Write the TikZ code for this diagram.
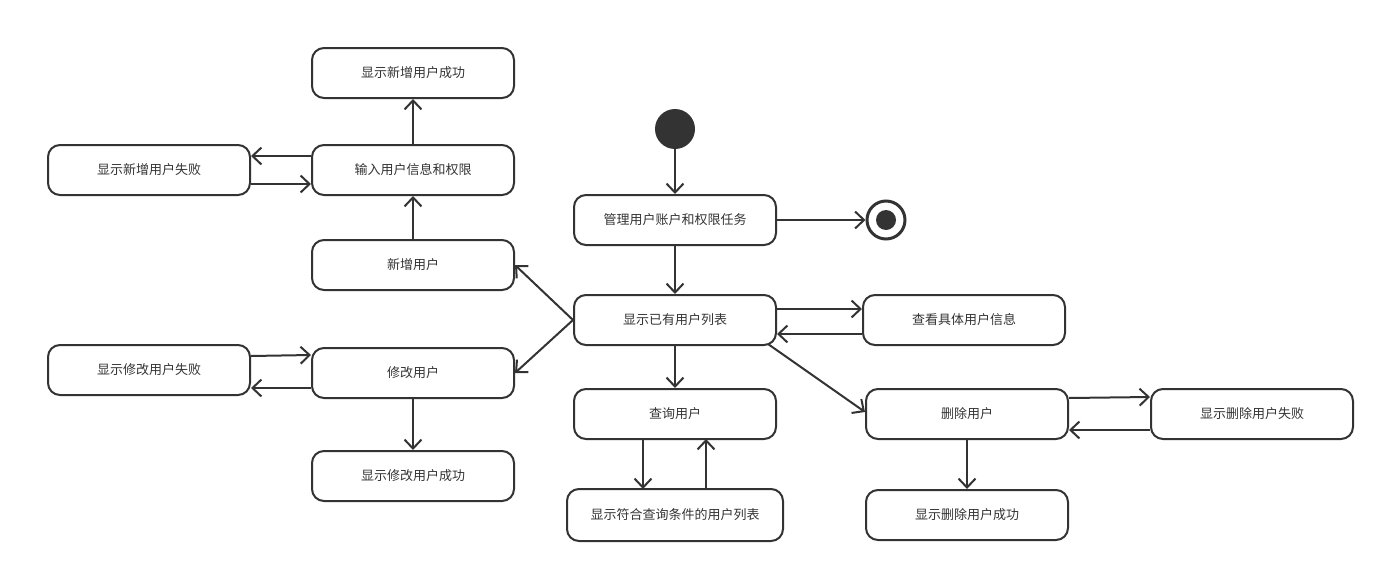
\documentclass[tikz,border=0pt]{standalone}
\usepackage{fontspec}
\setmainfont{Noto Sans CJK SC}
\usetikzlibrary{arrows.meta}
\definecolor{ink}{HTML}{333333}
\begin{document}
\begin{tikzpicture}[x=1pt,y=-1pt,
  act/.style={draw=ink, line width=2pt, rounded corners=12pt, minimum width=202pt, minimum height=50pt, inner sep=0pt, font=\fontsize{13pt}{15pt}\selectfont, text=ink},
  flow/.style={draw=ink, line width=2pt, -{Straight Barb[length=9pt,width=17pt,line width=2pt]}}]
\useasboundingbox (0,0) rectangle (1385,573);
% actions
\node[act] (addok)   at (413,73)  {显示新增用户成功};
\node[act] (input)   at (413,170) {输入用户信息和权限};
\node[act] (addfail) at (149,170) {显示新增用户失败};
\node[act] (add)     at (413,265) {新增用户};
\node[act] (modfail) at (149,370) {显示修改用户失败};
\node[act] (mod)     at (413,373) {修改用户};
\node[act] (modok)   at (413,476) {显示修改用户成功};
\node[act] (manage)  at (675,220) {管理用户账户和权限任务};
\node[act] (list)    at (675,320) {显示已有用户列表};
\node[act] (detail)  at (964,320) {查看具体用户信息};
\node[act] (query)   at (675,414) {查询用户};
\node[act, minimum width=216pt, minimum height=52pt] (result) at (675,515) {显示符合查询条件的用户列表};
\node[act] (del)     at (967,414) {删除用户};
\node[act] (delfail) at (1252,414) {显示删除用户失败};
\node[act] (delok)   at (967,515) {显示删除用户成功};
% initial and final states
\node[circle, fill=ink, minimum size=40pt, inner sep=0pt] (start) at (675,129) {};
\node[circle, draw=ink, line width=3pt, fill=white, minimum size=38pt, inner sep=0pt] (final) at (886,220) {};
\node[circle, fill=ink, minimum size=20pt, inner sep=0pt] at (final) {};
% transitions
\draw[flow] (input) -- (addok);
\draw[flow] (add) -- (input);
\draw[flow] (input.west |- 0,156) -- (addfail.east |- 0,156);
\draw[flow] (addfail.east |- 0,184) -- (input.west |- 0,184);
\draw[flow] (list.west) -- (add.east);
\draw[flow] (list.west) -- (mod.east);
\draw[flow] (modfail.east |- 0,356) -- (mod.west |- 0,355);
\draw[flow] (mod.west |- 0,388) -- (modfail.east |- 0,388);
\draw[flow] (mod) -- (modok);
\draw[flow] (start) -- (manage);
\draw[flow] (manage) -- (final);
\draw[flow] (manage) -- (list);
\draw[flow] (list.east |- 0,309) -- (detail.west |- 0,309);
\draw[flow] (detail.west |- 0,334) -- (list.east |- 0,334);
\draw[flow] (list) -- (query);
\draw[flow] (768,344) -- (del.west |- 0,412);
\draw[flow] (643,439) -- (643,489);
\draw[flow] (706,489) -- (706,439);
\draw[flow] (del.east |- 0,398) -- (delfail.west |- 0,397);
\draw[flow] (delfail.west |- 0,430) -- (del.east |- 0,430);
\draw[flow] (del) -- (delok);
\end{tikzpicture}
\end{document}
